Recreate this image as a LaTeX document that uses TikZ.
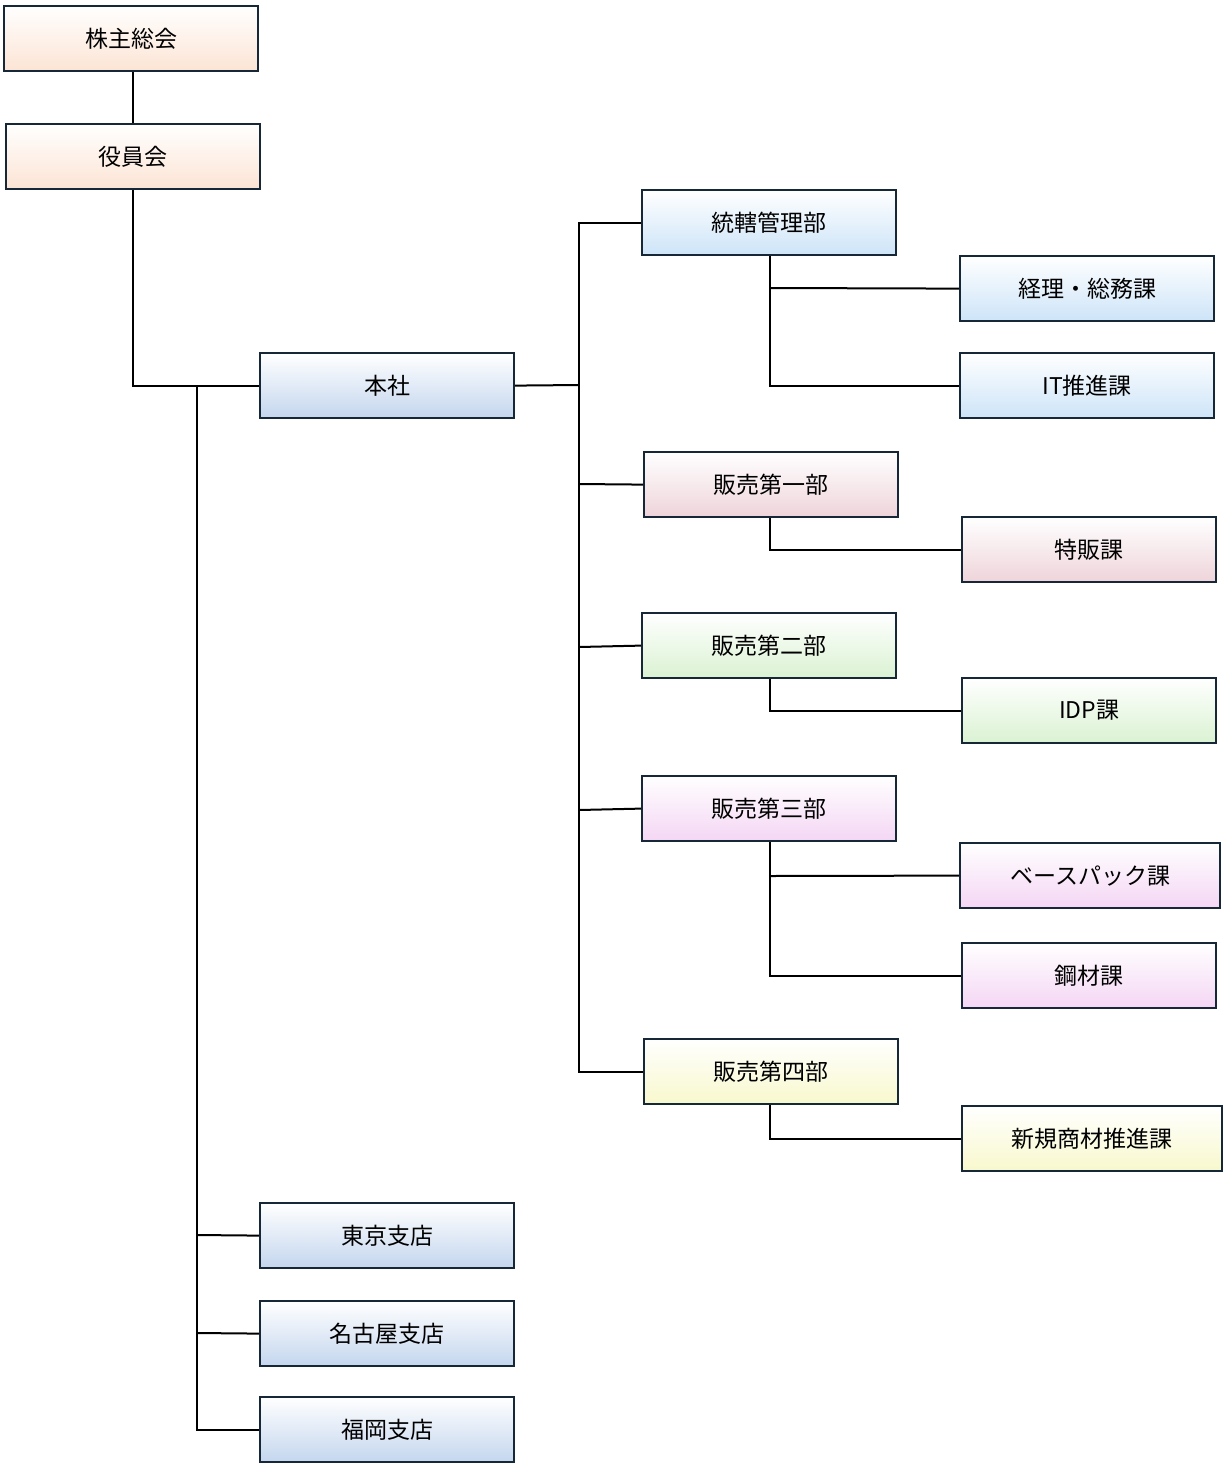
\documentclass[tikz,border=0pt]{standalone}
\usepackage{fontspec}
\setmainfont{Noto Sans CJK JP}
\definecolor{bd}{RGB}{22,40,55}
\definecolor{cor}{RGB}{252,228,212}
\definecolor{cbl}{RGB}{205,228,248}
\definecolor{cbh}{RGB}{196,214,238}
\definecolor{cpk}{RGB}{238,212,218}
\definecolor{cgr}{RGB}{218,242,210}
\definecolor{cvi}{RGB}{244,214,244}
\definecolor{cye}{RGB}{248,248,205}
\begin{document}
\begin{tikzpicture}[x=1pt,y=-1pt,
 bx/.style={draw=bd,line width=2.2pt,top color=white,bottom color=#1,minimum width=254pt,minimum height=65pt,inner sep=0pt,font=\fontsize{23}{26}\selectfont,anchor=north west},
 wide/.style={minimum width=260pt},
 ln/.style={line width=2pt,black}]
\useasboundingbox (0,0) rectangle (1230,1470);
\node[bx=cor] (a) at (3,5) {株主総会};
\node[bx=cor] (b) at (5,123) {役員会};
\node[bx=cbh] (h) at (259,352) {本社};
\node[bx=cbl] (d1) at (641,189) {統轄管理部};
\node[bx=cbl] (k1) at (959,255) {経理・総務課};
\node[bx=cbl] (k2) at (959,352) {IT推進課};
\node[bx=cpk] (d2) at (643,451) {販売第一部};
\node[bx=cpk] (k3) at (961,516) {特販課};
\node[bx=cgr] (d3) at (641,612) {販売第二部};
\node[bx=cgr] (k4) at (961,677) {IDP課};
\node[bx=cvi] (d4) at (641,775) {販売第三部};
\node[bx=cvi,wide] (k5) at (959,842) {ベースパック課};
\node[bx=cvi] (k6) at (961,942) {鋼材課};
\node[bx=cye] (d5) at (643,1038) {販売第四部};
\node[bx=cye,wide] (k7) at (961,1105) {新規商材推進課};
\node[bx=cbh] (s1) at (259,1202) {東京支店};
\node[bx=cbh] (s2) at (259,1300) {名古屋支店};
\node[bx=cbh] (s3) at (259,1396) {福岡支店};
\coordinate (j1) at (197,385);
\coordinate (j2) at (579,385);
\draw[ln] (a.south -| 133,0) -- (b.north -| 133,0);
\draw[ln] (b.south -| 133,0) |- (h.west);
\draw[ln] (j1) |- (s3.west);
\draw[ln] (197,1235) -- (s1.west);
\draw[ln] (197,1333) -- (s2.west);
\draw[ln] (h.east) -- (j2);
\draw[ln] (j2) |- (d1.west);
\draw[ln] (j2) |- (d5.west);
\draw[ln] (579,484) -- (d2.west);
\draw[ln] (579,647) -- (d3.west);
\draw[ln] (579,810) -- (d4.west);
\draw[ln] (d1.south -| 770,0) |- (k2.west);
\draw[ln] (770,288) -- (k1.west);
\draw[ln] (d2.south -| 770,0) |- (k3.west);
\draw[ln] (d3.south -| 770,0) |- (k4.west);
\draw[ln] (d4.south -| 770,0) |- (k6.west);
\draw[ln] (770,876) -- (k5.west);
\draw[ln] (d5.south -| 770,0) |- (k7.west);
\end{tikzpicture}
\end{document}
